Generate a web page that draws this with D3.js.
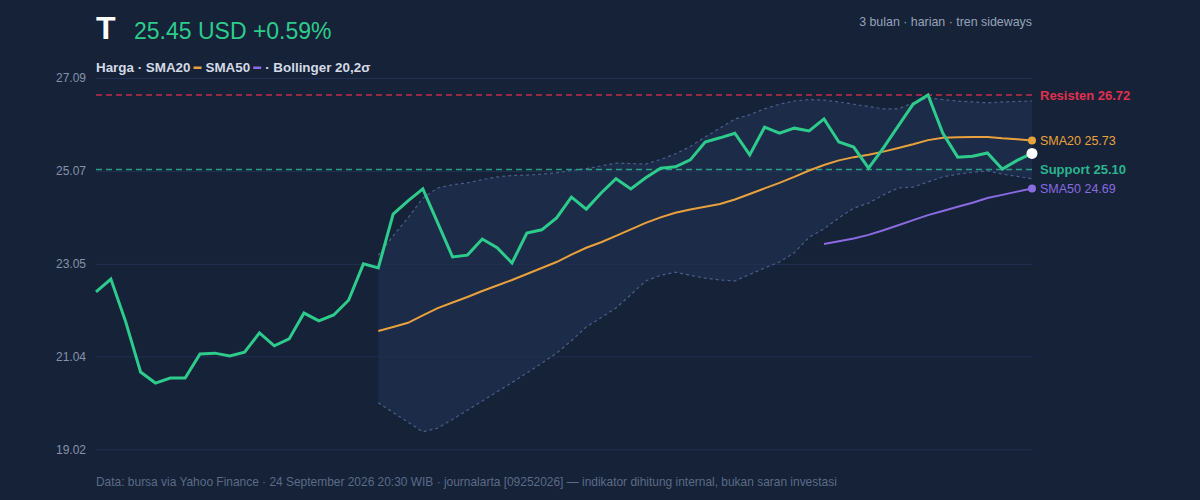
<!DOCTYPE html>
<html>
<head>
<meta charset="utf-8">
<script src="https://cdn.jsdelivr.net/npm/d3@7"></script>
<style>
  html, body { margin: 0; padding: 0; background: #152238; }
  svg { display: block; font-family: "Liberation Sans", Arial, sans-serif; }
</style>
</head>
<body>
<svg id="chart"></svg>
<script>
// Daily closes, 64 sessions
const price = [
  22.44, 22.72, 21.79, 20.70, 20.46, 20.57, 20.57, 21.09, 21.11, 21.05,
  21.13, 21.55, 21.27, 21.42, 21.98, 21.81, 21.94, 22.26, 23.05, 22.96,
  24.13, 24.42, 24.68, 23.94, 23.20, 23.24, 23.59, 23.40, 23.07, 23.72,
  23.79, 24.05, 24.50, 24.24, 24.59, 24.90, 24.68, 24.92, 25.13, 25.16,
  25.31, 25.70, 25.79, 25.89, 25.42, 26.02, 25.89, 26.00, 25.94, 26.20,
  25.70, 25.59, 25.13, 25.57, 26.05, 26.52, 26.72, 25.89, 25.37, 25.39,
  25.46, 25.11, 25.30, 25.45
]

// SMA20 / Bollinger start at session 19, SMA50 at session 49
const sma20Start = 19
const sma20 = [
  21.59, 21.68, 21.77, 21.93, 22.09, 22.21, 22.33, 22.46, 22.58, 22.70,
  22.83, 22.96, 23.09, 23.25, 23.40, 23.52, 23.66, 23.80, 23.94, 24.06,
  24.16, 24.23, 24.29, 24.35, 24.45, 24.57, 24.69, 24.81, 24.94, 25.08,
  25.20, 25.30, 25.37, 25.42, 25.49, 25.57, 25.65, 25.74, 25.79, 25.80,
  25.81, 25.81, 25.78, 25.76, 25.73
]
const bbUpper = [
  23.24, 23.66, 24.05, 24.48, 24.70, 24.77, 24.81, 24.88, 24.94, 24.97,
  24.98, 25.00, 25.03, 25.08, 25.12, 25.18, 25.24, 25.23, 25.22, 25.32,
  25.44, 25.60, 25.81, 26.00, 26.20, 26.29, 26.42, 26.52, 26.59, 26.62,
  26.61, 26.57, 26.52, 26.47, 26.42, 26.42, 26.55, 26.66, 26.62, 26.59,
  26.57, 26.55, 26.57, 26.58, 26.59
]
const bbLower = [
  20.03, 19.82, 19.61, 19.40, 19.48, 19.67, 19.87, 20.07, 20.27, 20.47,
  20.68, 20.89, 21.11, 21.38, 21.68, 21.88, 22.09, 22.38, 22.68, 22.80,
  22.87, 22.80, 22.74, 22.70, 22.68, 22.82, 22.96, 23.09, 23.29, 23.63,
  23.81, 24.05, 24.26, 24.37, 24.55, 24.70, 24.72, 24.83, 24.94, 25.00,
  25.04, 25.07, 25.00, 24.95, 24.90
]
const sma50Start = 49
const sma50 = [
  23.48, 23.54, 23.60, 23.68, 23.78, 23.89, 24.00, 24.11, 24.20, 24.29,
  24.38, 24.48, 24.55, 24.62, 24.69
]

const yTicks = [19.02, 21.04, 23.05, 25.07, 27.09]
const resistance = 26.72
const support = 25.10

const ticker = 'T'
const quote = '25.45 USD +0.59%'
const subtitle = '3 bulan · harian · tren sideways'
const footer = 'Data: bursa via Yahoo Finance · 24 September 2026 20:30 WIB · journalarta [09252026] — indikator dihitung internal, bukan saran investasi'

const W = 1200, H = 500
const margin = { top: 78, right: 168, bottom: 51, left: 96 }

const C = {
  bg: '#152238',
  grid: '#213050',
  axis: '#8792a8',
  price: '#2ecc8c',
  sma20: '#e9a23b',
  sma50: '#8a6be0',
  band: '#1c2b48',
  bandLine: '#4a5e8a',
  resist: '#e0304f',
  support: '#2bb58e',
  legend: '#d3dae6'
}

const svg = d3.select('#chart')
  .attr('width', W)
  .attr('height', H)

svg.append('rect').attr('width', W).attr('height', H).attr('fill', C.bg)

const x = d3.scaleLinear()
  .domain([0, price.length - 1])
  .range([margin.left, W - margin.right])

const y = d3.scaleLinear()
  .domain([yTicks[0], yTicks[yTicks.length - 1]])
  .range([H - margin.bottom + 0.3, margin.top])

// Grid + y labels
const yAxis = svg.append('g')
  .attr('transform', `translate(${margin.left},0)`)
  .call(d3.axisLeft(y)
    .tickValues(yTicks)
    .tickFormat(d3.format('.2f'))
    .tickSize(-(W - margin.left - margin.right))
    .tickPadding(10))
yAxis.select('.domain').remove()
yAxis.selectAll('.tick line').attr('stroke', C.grid).attr('stroke-width', 1)
yAxis.selectAll('.tick text')
  .attr('fill', C.axis)
  .attr('font-size', 12)
  .attr('font-family', '"Liberation Sans", Arial, sans-serif')

// Bollinger band
const band = bbUpper.map((u, i) => ({ i: i + sma20Start, u, l: bbLower[i] }))

svg.append('path')
  .datum(band)
  .attr('fill', C.band)
  .attr('d', d3.area().x(d => x(d.i)).y0(d => y(d.l)).y1(d => y(d.u)))

// gridlines sit above the band fill
yAxis.raise()

const bandLine = key => d3.line().x(d => x(d.i)).y(d => y(d[key]))
;['u', 'l'].forEach(k => {
  svg.append('path')
    .datum(band)
    .attr('fill', 'none')
    .attr('stroke', C.bandLine)
    .attr('stroke-width', 1.2)
    .attr('stroke-dasharray', '3,3')
    .attr('d', bandLine(k))
})

// Support / resistance
const levels = [
  { v: resistance, color: C.resist, label: `Resisten ${resistance.toFixed(2)}` },
  { v: support, color: C.support, label: `Support ${support.toFixed(2)}` }
]
levels.forEach(lv => {
  svg.append('line')
    .attr('x1', margin.left).attr('x2', W - margin.right)
    .attr('y1', y(lv.v)).attr('y2', y(lv.v))
    .attr('stroke', lv.color)
    .attr('stroke-width', 1.4)
    .attr('stroke-dasharray', '6,4')
    .attr('opacity', 0.85)
})

// SMA lines
const sma20Pts = sma20.map((v, i) => ({ i: i + sma20Start, v }))
const sma50Pts = sma50.map((v, i) => ({ i: i + sma50Start, v }))
const line = d3.line().x(d => x(d.i)).y(d => y(d.v))

svg.append('path').datum(sma20Pts)
  .attr('fill', 'none').attr('stroke', C.sma20).attr('stroke-width', 2)
  .attr('d', line)
svg.append('path').datum(sma50Pts)
  .attr('fill', 'none').attr('stroke', C.sma50).attr('stroke-width', 2)
  .attr('d', line)

// Price
const pricePts = price.map((v, i) => ({ i, v }))
svg.append('path').datum(pricePts)
  .attr('fill', 'none').attr('stroke', C.price).attr('stroke-width', 3)
  .attr('d', line)

// End markers
const last20 = sma20Pts[sma20Pts.length - 1]
const last50 = sma50Pts[sma50Pts.length - 1]
const lastP = pricePts[pricePts.length - 1]
svg.append('circle').attr('cx', x(last20.i)).attr('cy', y(last20.v)).attr('r', 4).attr('fill', C.sma20)
svg.append('circle').attr('cx', x(last50.i)).attr('cy', y(last50.v)).attr('r', 4).attr('fill', C.sma50)
svg.append('circle').attr('cx', x(lastP.i)).attr('cy', y(lastP.v)).attr('r', 5.5).attr('fill', '#ffffff')

// Right side labels
const labelX = W - margin.right + 8
const rightLabels = [
  { v: resistance, text: levels[0].label, color: C.resist, bold: true },
  { v: last20.v, text: `SMA20 ${last20.v.toFixed(2)}`, color: C.sma20, bold: false },
  { v: support, text: levels[1].label, color: C.support, bold: true },
  { v: last50.v, text: `SMA50 ${last50.v.toFixed(2)}`, color: C.sma50, bold: false }
]
rightLabels.forEach(l => {
  svg.append('text')
    .attr('x', labelX)
    .attr('y', y(l.v) + 4.5)
    .attr('fill', l.color)
    .attr('font-size', l.bold ? 13 : 12.5)
    .attr('font-weight', l.bold ? 'bold' : 'normal')
    .text(l.text)
})

// Header
svg.append('text')
  .attr('x', margin.left).attr('y', 39)
  .attr('fill', '#ffffff').attr('font-size', 32).attr('font-weight', 'bold')
  .text(ticker)
svg.append('text')
  .attr('x', 134).attr('y', 39)
  .attr('fill', C.price).attr('font-size', 23)
  .text(quote)
svg.append('text')
  .attr('x', W - margin.right).attr('y', 26)
  .attr('text-anchor', 'end')
  .attr('fill', '#98a3b8').attr('font-size', 12.4)
  .text(subtitle)

// Legend row
const legend = svg.append('g').attr('transform', `translate(${margin.left},72)`)
const legendParts = [
  { text: 'Harga · SMA20', swatch: C.sma20 },
  { text: 'SMA50', swatch: C.sma50 },
  { text: '· Bollinger 20,2σ', swatch: null }
]
let lx = 0
legendParts.forEach(p => {
  const t = legend.append('text')
    .attr('x', lx).attr('y', 0)
    .attr('fill', C.legend).attr('font-size', 13.4).attr('font-weight', 'bold')
    .text(p.text)
  lx += t.node().getComputedTextLength() + 3
  if (p.swatch) {
    legend.append('rect')
      .attr('x', lx).attr('y', -5.5)
      .attr('width', 8).attr('height', 2.5)
      .attr('fill', p.swatch)
    lx += 12
  }
})

// Footer
svg.append('text')
  .attr('x', margin.left).attr('y', 486)
  .attr('fill', '#5c6b86').attr('font-size', 11.95)
  .text(footer)
</script>
</body>
</html>
